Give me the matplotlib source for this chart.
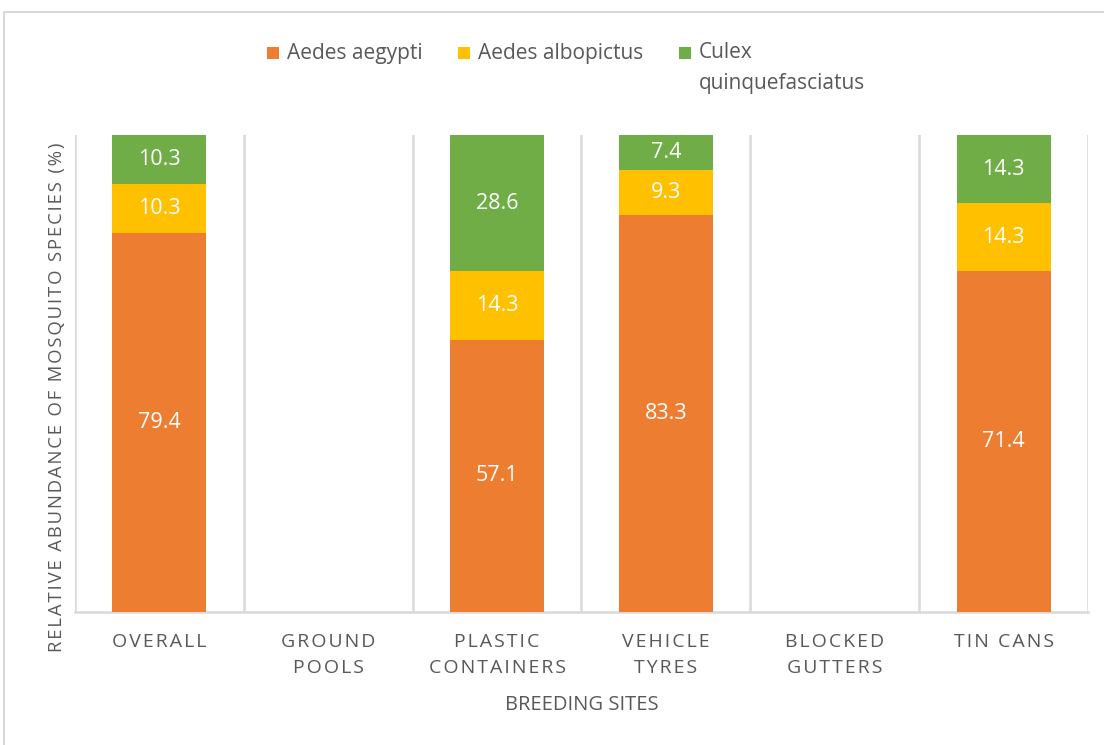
import matplotlib
matplotlib.use("Agg")
import matplotlib.pyplot as plt
from matplotlib.patches import Rectangle
import numpy as np

categories = ["OVERALL", "GROUND\nPOOLS", "PLASTIC\nCONTAINERS", "VEHICLE\nTYRES", "BLOCKED\nGUTTERS", "TIN CANS"]
aegypti = [79.4, 0, 57.1, 83.3, 0, 71.4]
albopictus = [10.3, 0, 14.3, 9.3, 0, 14.3]
culex = [10.3, 0, 28.6, 7.4, 0, 14.3]
series_names = ["Aedes aegypti", "Aedes albopictus", "Culex\nquinquefasciatus"]
colors = ["#ED7D31", "#FFC000", "#70AD47"]
xlabel = "BREEDING SITES"
ylabel = "RELATIVE ABUNDANCE OF MOSQUITO SPECIES (%)"

FONT = ["Open Sans", "DejaVu Sans"]
GRAY = "#595959"
GRID = "#D9D9D9"

def spaced(s, sep="\u200a"):
    return "\n".join(sep.join(line) for line in s.split("\n"))

W, H = 1104, 745
fig = plt.figure(figsize=(W / 100, H / 100), dpi=100)

# outer border
fig.patches.append(Rectangle((4 / W, -0.1), 2, (H - 12) / H + 0.1, transform=fig.transFigure,
                             fill=False, edgecolor=GRID, linewidth=1.5))

ax = fig.add_axes([75 / W, (H - 612) / H, (1088 - 75) / W, (612 - 135) / H])
x = np.arange(len(categories))
bw = 0.556
data = [aegypti, albopictus, culex]
bottom = np.zeros(len(categories))
for vals, c in zip(data, colors):
    vals = np.array(vals, dtype=float)
    bars = ax.bar(x, vals, bw, bottom=bottom, color=c, zorder=3)
    labels = [f"{v:.1f}" if v > 0 else "" for v in vals]
    ax.bar_label(bars, labels=labels, label_type="center", color="white",
                 fontsize=15.5, family=FONT)
    bottom += vals

ax.set_xlim(-0.5, len(categories) - 0.5)
ax.set_ylim(0, 100)
ax.set_yticks([])
ax.set_xticks(x)
ax.set_xticklabels([spaced(c) for c in categories], family=FONT, fontsize=14,
                   color=GRAY, linespacing=1.55)
ax.tick_params(axis="x", length=0, pad=15)
ax.set_xticks(np.arange(-0.5, len(categories)), minor=True)
ax.tick_params(axis="x", which="minor", length=0)
ax.grid(True, which="minor", axis="x", color=GRID, linewidth=1.8, zorder=0)
for s in ["top", "left", "right"]:
    ax.spines[s].set_visible(False)
ax.spines["bottom"].set_color(GRID)
ax.spines["bottom"].set_linewidth(1.8)

fig.text(582 / W, 1 - 705 / H, xlabel, ha="center", va="center", fontsize=14.5,
         color=GRAY, family=FONT)
fig.text(57 / W, 1 - 397 / H, spaced(ylabel), ha="center", va="center", rotation=90,
         fontsize=13.3, color=GRAY, family=FONT)

# legend
leg_sq_x = [267, 458, 679]
leg_tx_x = [287, 478, 699]
ly = 53
for name, c, sx, tx in zip(series_names, colors, leg_sq_x, leg_tx_x):
    fig.patches.append(Rectangle((sx / W, 1 - (ly + 6) / H), 12 / W, 12 / H,
                                 transform=fig.transFigure, facecolor=c, edgecolor="none"))
    fig.text(tx / W, 1 - ly / H, name.split("\n")[0], ha="left", va="center",
             fontsize=15, color=GRAY, family=FONT)
    if "\n" in name:
        fig.text(tx / W, 1 - (ly + 30) / H, name.split("\n")[1], ha="left", va="center",
                 fontsize=15, color=GRAY, family=FONT)

fig.savefig("out.png", dpi=100)
